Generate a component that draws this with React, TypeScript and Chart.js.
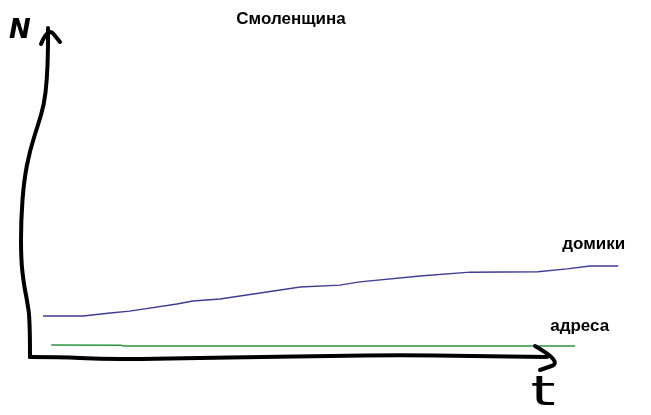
import React, { useEffect, useRef } from "react";
import { Chart, registerables } from "chart.js";

Chart.register(...registerables);

const titleText = "Смоленщина";
const axisLabelY = "N";
const axisLabelX = "t";

const domikiLabel = "домики";
const domikiT = [2.2, 9.0, 13.6, 16.9, 24.9, 27.6, 32.2, 45.8, 52.5, 55.9, 66.1, 74.6, 86.1, 91.0, 94.9, 99.7];
const domikiN = [12.0, 12.0, 12.9, 13.5, 15.7, 16.6, 17.2, 20.9, 21.5, 22.5, 24.3, 25.5, 25.6, 26.5, 27.4, 27.4];

const adresaLabel = "адреса";
const adresaT = [3.6, 15.3, 16.0, 92.4];
const adresaN = [3.1, 3.0, 2.8, 2.8];

const sketchPlugin = {
  id: "sketch",
  afterDraw(chart: any) {
    const { ctx, chartArea: a } = chart;
    const L = a.left;
    const B = a.bottom;
    const P = (dx: number, dy: number): [number, number] => [L + dx, B + dy];
    const path = (pts: [number, number][]) => {
      ctx.beginPath();
      ctx.moveTo(pts[0][0], pts[0][1]);
      for (let i = 1; i < pts.length - 1; i++) {
        const mx = (pts[i][0] + pts[i + 1][0]) / 2;
        const my = (pts[i][1] + pts[i + 1][1]) / 2;
        ctx.quadraticCurveTo(pts[i][0], pts[i][1], mx, my);
      }
      const l = pts[pts.length - 1];
      ctx.lineTo(l[0], l[1]);
      ctx.stroke();
    };
    ctx.save();
    ctx.strokeStyle = "#000";
    ctx.lineWidth = 4;
    ctx.lineCap = "round";
    ctx.lineJoin = "round";
    // y axis (hand drawn)
    path([P(0, 2), P(0, -35), P(-3, -55), P(-6, -70), P(-9, -95), P(-9, -135), P(-6, -175), P(0, -205), P(8, -230), P(14, -250), P(17, -275), P(18, -305), P(18, -327)]);
    path([P(11, -311), P(18, -328), P(30, -313)]);
    // x axis (hand drawn)
    path([P(0, 2), P(30, 2), P(70, 4), P(110, 4), P(170, 3), P(230, 2), P(300, 1), P(370, 0), P(440, 1), P(517, 2)]);
    path([P(505, -9), P(533, 7), P(510, 15)]);
    ctx.restore();

    // texts
    ctx.save();
    ctx.fillStyle = "#000";
    ctx.textBaseline = "alphabetic";
    ctx.textAlign = "center";
    ctx.font = "bold 17px 'Liberation Sans', Arial, sans-serif";
    ctx.fillText(titleText, a.left + 261, 24);

    const m0 = chart.getDatasetMeta(0).data;
    const e0 = m0[m0.length - 1];
    const m1 = chart.getDatasetMeta(1).data;
    const e1 = m1[m1.length - 1];
    ctx.textAlign = "right";
    ctx.fillText(domikiLabel, e0.x + 7, e0.y - 17);
    ctx.fillText(adresaLabel, e1.x + 34, e1.y - 15);

    ctx.textAlign = "center";
    ctx.textBaseline = "middle";
    ctx.font = "bold italic 26px 'DejaVu Sans', sans-serif";
    ctx.fillText(axisLabelY, L - 10, 31);

    ctx.save();
    ctx.translate(L + 513, B + 40);
    ctx.scale(1.6, 1);
    ctx.font = "40px 'DejaVu Sans', sans-serif";
    ctx.fillText(axisLabelX, 0, 0);
    ctx.restore();
    ctx.restore();
  },
};

export default function App() {
  const ref = useRef<HTMLCanvasElement | null>(null);
  useEffect(() => {
    document.body.style.margin = "0";
    const canvas = ref.current;
    if (!canvas) return;
    const chart = new Chart(canvas, {
      type: "line",
      data: {
        datasets: [
          {
            label: domikiLabel,
            data: domikiT.map((t, i) => ({ x: t, y: domikiN[i] })),
            borderColor: "#3d3d94",
            borderWidth: 1.5,
            pointRadius: 0,
            tension: 0,
            fill: false,
          },
          {
            label: adresaLabel,
            data: adresaT.map((t, i) => ({ x: t, y: adresaN[i] })),
            borderColor: "#2e9440",
            borderWidth: 1.5,
            pointRadius: 0,
            tension: 0,
            fill: false,
          },
        ],
      },
      options: {
        responsive: false,
        animation: false,
        layout: { padding: { left: 30, right: 31, top: 30, bottom: 60 } },
        plugins: { legend: { display: false }, tooltip: { enabled: false }, title: { display: false } },
        scales: {
          x: { type: "linear", min: 0, max: 100, display: false },
          y: { type: "linear", min: 0, max: 100, display: false },
        },
      },
      plugins: [sketchPlugin],
    });
    return () => chart.destroy();
  }, []);
  return (
    <div style={{ width: 651, height: 415, background: "#fff" }}>
      <canvas ref={ref} width={651} height={415} />
    </div>
  );
}
